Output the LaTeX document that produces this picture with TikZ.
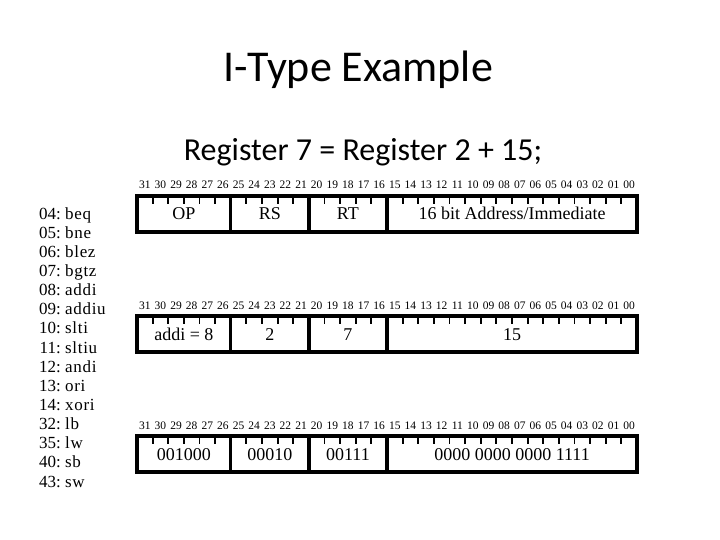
\documentclass[tikz,border=0pt]{standalone}
\usepackage{fontspec}
\setmainfont{Liberation Serif}
\newfontfamily\titlefont{Carlito}
\newfontfamily\listfont[LetterSpace=4]{Liberation Serif}
\begin{document}
\begin{tikzpicture}[x=1pt,y=-1pt,
  boxline/.style={line width=3.4pt},
  tickline/.style={line width=1.9pt},
  bitlbl/.style={font=\fontsize{11.5}{11.5}\selectfont, inner sep=0pt, anchor=base},
  fieldtxt/.style={font=\fontsize{18}{18}\selectfont, inner sep=0pt, anchor=base},
  listnum/.style={font=\fontsize{17}{17}\selectfont, inner sep=0pt, anchor=base east},
  listname/.style={font=\listfont\fontsize{17}{17}\selectfont, inner sep=0pt, anchor=base west}]
\useasboundingbox (0,0) rectangle (720,540);
\fill[white] (0,0) rectangle (720,540);
\node[font=\titlefont\fontsize{44}{44}\selectfont, inner sep=0pt] (title) at (358,70) {I-Type Example};
\node[font=\titlefont\fontsize{32}{32}\selectfont, inner sep=0pt] (sub) at (363,152) {Register 7 = Register 2 + 15;};
% list
\foreach \n/\m [count=\k from 0] in {04/beq,05/bne,06/blez,07/bgtz,08/addi,09/addiu,10/slti,11/sltiu,12/andi,13/ori,14/xori,32/lb,35/lw,40/sb,43/sw}{
  \node[listnum] (num\k) at (61,219+19.15*\k) {\n:};
  \node[listname] (name\k) at (65,219+19.15*\k) {\m};
}
% rows
\foreach \r/\ty/\a/\b/\c/\d in {0/196/OP/RS/RT/16 bit Address\slash Immediate,
                                  1/316/addi = 8/2/7/15,
                                  2/436/001000/00010/00111/0000 0000 0000 1111}{
  \pgfmathsetmacro{\by}{\ty+36}
  \pgfmathsetmacro{\my}{\ty+24}
  \pgfmathsetmacro{\ly}{\ty-7}
  % bit labels
  \foreach \i in {0,...,31}{
    \pgfmathtruncatemacro{\bitn}{31-\i}
    \ifnum\bitn<10 \def\bl{0\bitn}\else\def\bl{\bitn}\fi
    \node[bitlbl] (b\r-\i) at ({137+15.625*(\i+0.5)},\ly) {\bl};
  }
  % ticks
  \foreach \i in {1,...,31}{
    \ifnum\i=6 \else\ifnum\i=11 \else\ifnum\i=16 \else
      \draw[tickline] ({137+15.625*\i},\ty) -- ({137+15.625*\i},{\ty+8});
    \fi\fi\fi
  }
  \draw[boxline] (137,\ty) rectangle (637,\by);
  \draw[boxline] ({137+15.625*6},\ty) -- ({137+15.625*6},\by);
  \draw[boxline] ({137+15.625*11},\ty) -- ({137+15.625*11},\by);
  \draw[boxline] ({137+15.625*16},\ty) -- ({137+15.625*16},\by);
  \node[fieldtxt] (fa\r) at ({137+15.625*3},\my) {\a};
  \node[fieldtxt] (fb\r) at ({137+15.625*8.5},\my) {\b};
  \node[fieldtxt] (fc\r) at ({137+15.625*13.5},\my) {\c};
  \node[fieldtxt] (fd\r) at ({137+15.625*24},\my) {\d};
}
\end{tikzpicture}
\end{document}
